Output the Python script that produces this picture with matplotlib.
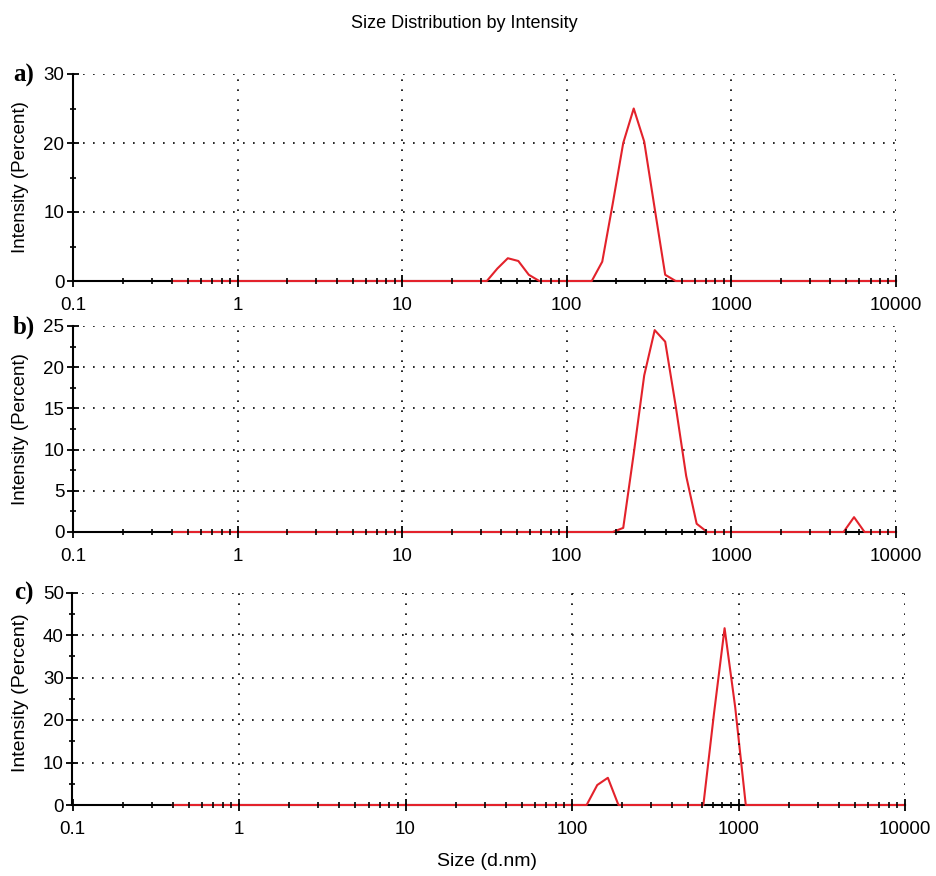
import numpy as np
import matplotlib
matplotlib.use("Agg")
from matplotlib import pyplot as plt
from matplotlib.ticker import FixedLocator, NullFormatter, MultipleLocator

# size bins (d.nm) and intensity (%)
size_a = [0.4, 32.67, 37.84, 43.82, 50.75, 58.77, 68.06, 141.8, 164.2, 190.1,
          220.2, 255.0, 295.3, 342.0, 396.1, 458.7, 10000]
int_a = [0, 0, 1.8, 3.3, 2.9, 0.9, 0, 0, 2.8, 11.2, 20.0, 25.0, 20.2, 10.5, 0.9, 0, 0]

size_b = [0.4, 190.1, 220.2, 255.0, 295.3, 342.0, 396.1, 458.7, 531.2, 615.1,
          712.4, 4801, 5560, 6439, 10000]
int_b = [0, 0, 0.5, 9.5, 19.0, 24.5, 23.1, 15.3, 6.8, 1.0, 0, 0, 1.8, 0, 0]

size_c = [0.4, 122.4, 141.8, 164.2, 190.1, 615.1, 712.4, 825.0, 955.4, 1106, 10000]
int_c = [0, 0, 4.7, 6.4, 0, 0, 21.5, 41.6, 23.0, 0, 0]

panel_labels = ["a)", "b)", "c)"]
ymax = [30, 25, 50]
ymajor = [10, 5, 10]
yminor = [5, 2.5, 5]
xticks = [0.1, 1, 10, 100, 1000, 10000]
xtick_labels = ["0.1", "1", "10", "100", "1000", "10000"]

W, H = 937, 876
# axes boxes in pixels: left, top, right, bottom
boxes = [(73, 74, 896, 281), (73, 326, 896, 532), (72.5, 592.5, 905, 805)]
ylabel_size = [13.5, 13.5, 14]
ylabel_pos = [0.5, 0.5, 0.53]

plt.rcParams['font.family'] = ['Liberation Sans', 'DejaVu Sans']
fig = plt.figure(figsize=(W / 100, H / 100), dpi=100)

red = "#e3222b"
data = [(size_a, int_a), (size_b, int_b), (size_c, int_c)]
for i, (sz, it) in enumerate(data):
    l, t, r, b = boxes[i]
    ax = fig.add_axes([l / W, 1 - b / H, (r - l) / W, (b - t) / H])
    ax.set_xscale("log")
    ax.set_xlim(0.1, 10000)
    ax.set_ylim(0, ymax[i])
    ax.plot(sz, it, color=red, lw=1.5, clip_on=False, zorder=3)

    ax.xaxis.set_major_locator(FixedLocator(xticks))
    ax.set_xticklabels(xtick_labels)
    minors = [m * 10.0 ** e for e in range(-1, 4) for m in range(2, 10)]
    ax.xaxis.set_minor_locator(FixedLocator(minors))
    ax.xaxis.set_minor_formatter(NullFormatter())
    ax.yaxis.set_major_locator(MultipleLocator(ymajor[i]))
    ax.yaxis.set_minor_locator(MultipleLocator(yminor[i]))

    ax.tick_params(which="major", direction="inout", length=8.5, width=1.3,
                   labelsize=13.5, pad=2)
    ax.tick_params(which="minor", direction="inout", length=5, width=1.2)
    ax.tick_params(axis="x", which="minor", length=4.5)
    ax.tick_params(axis="x", pad=7)

    ax.grid(True, which="major", color="black", linestyle=(0, (1, 5)), lw=1.2)
    # no grid line on top of the axes themselves
    ax.get_xgridlines()[0].set_visible(False)
    ax.get_ygridlines()[0].set_visible(False)
    for side in ["top", "right"]:
        ax.spines[side].set_visible(False)
    for side in ["left", "bottom"]:
        ax.spines[side].set_linewidth(1.5)
    ax.xaxis.set_zorder(4)

    ax.set_ylabel("Intensity (Percent)", fontsize=ylabel_size[i])
    ax.yaxis.set_label_coords(-(l - 29) / (r - l), ylabel_pos[i])
    fig.text(24 / W, 1 - (t + 1) / H, panel_labels[i], family="Liberation Serif",
             weight="bold", fontsize=18, ha="center", va="center")

fig.text(464 / W, 1 - 23 / H, "Size Distribution by Intensity", fontsize=13,
         ha="center", va="center")
fig.text(487 / W, 1 - 861 / H, "Size (d.nm)", fontsize=14, ha="center", va="center")

fig.savefig("out.png", dpi=100)
